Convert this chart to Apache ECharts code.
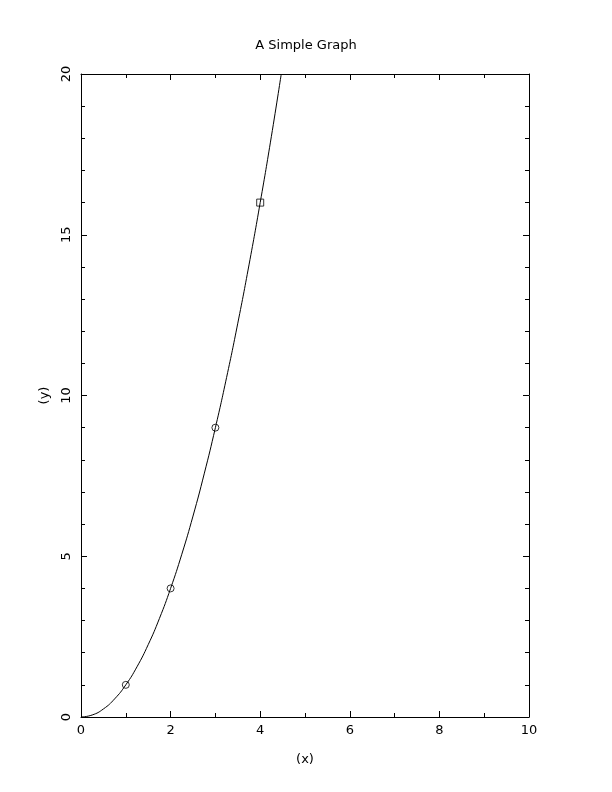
<!DOCTYPE html>
<html>
<head>
<meta charset="utf-8">
<script src="https://cdn.jsdelivr.net/npm/echarts@6/dist/echarts.min.js"></script>
<style>html,body{margin:0;padding:0;background:#fff;}#c{width:612px;height:792px;}</style>
</head>
<body>
<div id="c"></div>
<script>
var titleText = 'A Simple Graph';
var xName = '(x)';
var yName = '(y)';
// curve points
var curveX = [0, 0.25, 0.5, 0.75, 1, 1.25, 1.5, 1.75, 2, 2.25, 2.5, 2.75, 3, 3.25, 3.5, 3.75, 4, 4.25, 4.47];
var curveY = [0, 0.0625, 0.25, 0.5625, 1, 1.5625, 2.25, 3.0625, 4, 5.0625, 6.25, 7.5625, 9, 10.5625, 12.25, 14.0625, 16, 18.0625, 20];
var circleX = [1, 2, 3];
var circleY = [1, 4, 9];
var squareX = [4];
var squareY = [16];

var font = 'DejaVu Sans';
function zip(a, b) { return a.map(function (v, i) { return [v, b[i]]; }); }

var chart = echarts.init(document.getElementById('c'), null, {renderer: 'canvas'});
var lineStyle = {color: '#000', width: 1};
function xa(pos, show) {
  return {
    type: 'value', position: pos, min: 0, max: 10, interval: 2,
    name: show ? xName : '', nameLocation: 'middle', nameGap: 36,
    nameTextStyle: {fontFamily: font, fontSize: 13, color: '#000'},
    axisLine: {show: true, onZero: false, lineStyle: lineStyle},
    axisTick: {show: true, inside: true, length: 6, lineStyle: lineStyle},
    minorTick: {show: true, splitNumber: 2, length: 4, lineStyle: lineStyle},
    axisLabel: {show: show, fontFamily: font, fontSize: 13, color: '#000', margin: 7},
    splitLine: {show: false}
  };
}
function ya(pos, show) {
  return {
    type: 'value', position: pos, min: 0, max: 20, interval: 5,
    name: show ? yName : '', nameLocation: 'middle', nameGap: 30, nameRotate: 90,
    nameTextStyle: {fontFamily: font, fontSize: 13, color: '#000'},
    axisLine: {show: true, onZero: false, lineStyle: lineStyle},
    axisTick: {show: true, inside: true, length: 6, lineStyle: lineStyle},
    minorTick: {show: true, splitNumber: 5, length: 4, lineStyle: lineStyle},
    axisLabel: {show: show, rotate: 90, fontFamily: font, fontSize: 13, color: '#000', margin: 8},
    splitLine: {show: false}
  };
}
chart.setOption({
  animation: false,
  backgroundColor: '#fff',
  title: {text: titleText, left: 'center', top: 34,
    textStyle: {fontFamily: font, fontSize: 13, fontWeight: 'normal', color: '#000'}},
  grid: {left: 81, right: 83, top: 74, bottom: 75},
  xAxis: [xa('bottom', true), xa('top', false)],
  yAxis: [ya('left', true), ya('right', false)],
  series: [
    {type: 'line', data: zip(curveX, curveY), smooth: true, showSymbol: false,
      lineStyle: {color: '#000', width: 1}, clip: true},
    {type: 'scatter', data: zip(circleX, circleY), symbol: 'circle', symbolSize: 7,
      itemStyle: {color: 'rgba(0,0,0,0)', borderColor: '#000', borderWidth: 1}},
    {type: 'scatter', data: zip(squareX, squareY), symbol: 'rect', symbolSize: 7,
      itemStyle: {color: 'rgba(0,0,0,0)', borderColor: '#000', borderWidth: 1}}
  ]
});
</script>
</body>
</html>
